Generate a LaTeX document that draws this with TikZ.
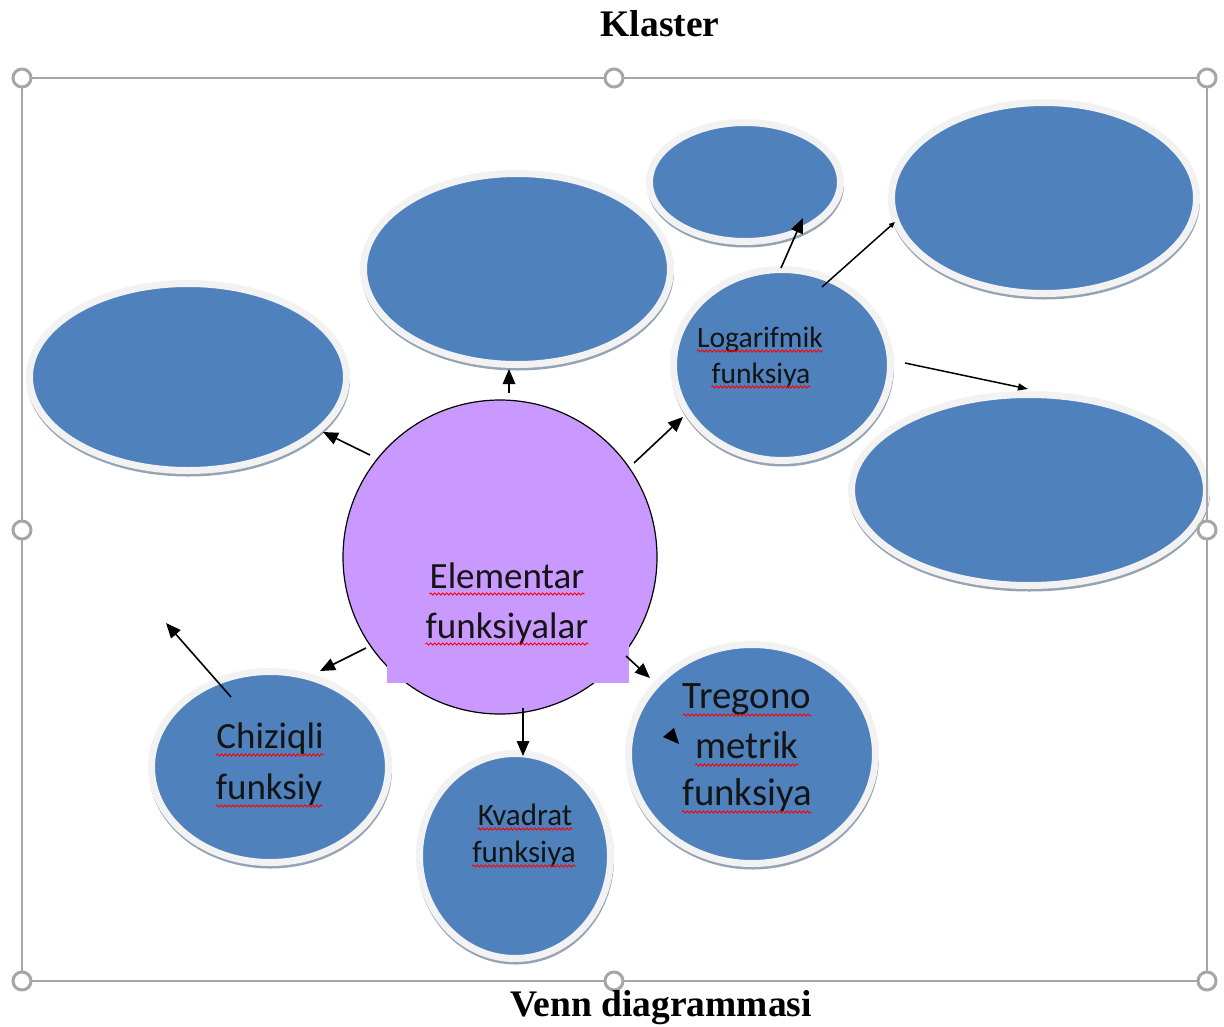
\documentclass[tikz,border=0pt]{standalone}
\usepackage{fontspec}
\setmainfont{Liberation Serif}
\newfontfamily\calibri{Carlito}
\usetikzlibrary{shapes.geometric,arrows.meta,decorations.pathmorphing}
\definecolor{blobblue}{HTML}{4F81BD}
\definecolor{rimwhite}{HTML}{F2F2F2}
\definecolor{shadowgray}{HTML}{96A3B5}
\definecolor{centrepurple}{HTML}{CA99FF}
\definecolor{framegray}{HTML}{A6A6A6}
\tikzset{
  blob/.style={ellipse, inner sep=0pt, outer sep=0pt, fill=blobblue, draw=rimwhite, line width=7pt,
    preaction={draw=shadowgray, line width=6pt, transform canvas={xshift=0.5pt, yshift=-3pt}}},
  hub/.style={circle, inner sep=0pt, outer sep=0pt, minimum size=314pt, fill=centrepurple, draw=black, line width=1.2pt},
  lbl/.style={anchor=base, inner sep=0pt, text=black!92},
  spell/.style={draw=red, line width=0.9pt, decorate, decoration={snake, segment length=4pt, amplitude=1.1pt}},
  link/.style={draw=black, line width=1.6pt, -{Triangle[length=15pt,width=12.5pt]}},
  midlink/.style={draw=black, line width=1.5pt, -{Triangle[length=10pt,width=7pt]}},
  tinylink/.style={draw=black, line width=1.5pt, -{Triangle[length=6pt,width=5pt]}},
  handle/.style={circle, inner sep=0pt, outer sep=0pt, minimum size=18pt, draw=framegray, line width=3pt, fill=white},
  titletext/.style={anchor=base, inner sep=0pt, font=\bfseries\fontsize{37.5}{40}\selectfont}
}
\begin{document}
\begin{tikzpicture}[x=1pt,y=-1pt]
\useasboundingbox (0,0) rectangle (1224,1026);
% outer ellipses
\node[blob, minimum width=317pt, minimum height=187pt] (L1) at (188,377) {};
\node[blob, minimum width=307pt, minimum height=191pt] (T1) at (517,269) {};
\node[blob, minimum width=191pt, minimum height=119pt] (S)  at (745,182) {};
\node[blob, minimum width=305pt, minimum height=191pt] (TR) at (1044,198) {};
\node[blob, minimum width=355pt, minimum height=191pt] (R)  at (1029,490) {};
\node[blob, minimum width=217pt, minimum height=191pt] (Lg) at (782,365) {};
\node[blob, minimum width=237pt, minimum height=191pt] (Ch) at (270,767) {};
\node[blob, minimum width=191pt, minimum height=205pt] (Kv) at (515,856) {};
\node[blob, minimum width=247pt, minimum height=219pt] (Tr) at (752,754) {};
% central circle with text box overlay
\node[hub] (c) at (500,557) {};
\fill[centrepurple] (387,636) rectangle (629,683);
% connectors
\draw[link] ([shift={(-130,-102)}]c.center) -- ([shift={(135,55)}]L1.center);
\draw[link] ([shift={(9,-164)}]c.center) -- ([shift={(-8,100)}]T1.center);
\draw[link] ([shift={(134,-94)}]c.center) -- ([shift={(-99,52)}]Lg.center);
\draw[link] ([shift={(-1,-97)}]Lg.center) -- ([shift={(58,36)}]S.center);
\draw[tinylink] ([shift={(40,-78)}]Lg.center) -- ([shift={(-149,24)}]TR.center);
\draw[midlink] ([shift={(123,-2)}]Lg.center) -- ([shift={(-1,-101)}]R.center);
\draw[link] ([shift={(-134,91)}]c.center) -- ([shift={(50,-96)}]Ch.center);
\coordinate (hfree) at (166,623);
\draw[link] ([shift={(-39,-70)}]Ch.center) -- (hfree);
\draw[link] ([shift={(23,151)}]c.center) -- ([shift={(8,-100)}]Kv.center);
\draw[link] ([shift={(126,99)}]c.center) -- ([shift={(-102,-76)}]Tr.center);
\fill[black] ([shift={(-89,-17)}]Tr.center) -- ([shift={(-78,-26)}]Tr.center) -- ([shift={(-73,-10)}]Tr.center) -- cycle;
% labels
\node[lbl, font=\calibri\fontsize{37}{40}\selectfont] (e1) at (507,588) {Elementar};
\node[lbl, font=\calibri\fontsize{37}{40}\selectfont] (e2) at (507,638) {funksiyalar};
\node[lbl, font=\calibri\fontsize{29.6}{32}\selectfont] (lg1) at (760,347) {Logarifmik};
\node[lbl, font=\calibri\fontsize{29.6}{32}\selectfont] (lg2) at (761,383) {funksiya};
\node[lbl, font=\calibri\fontsize{37}{40}\selectfont] (ch1) at (270,748) {Chiziqli};
\node[lbl, font=\calibri\fontsize{37}{40}\selectfont] (ch2) at (269,799) {funksiy};
\node[lbl, font=\calibri\fontsize{31}{32}\selectfont] (kv1) at (525,825) {Kvadrat};
\node[lbl, font=\calibri\fontsize{31}{32}\selectfont] (kv2) at (524,862) {funksiya};
\node[lbl, font=\calibri\fontsize{38.8}{40}\selectfont] (tr1) at (747,708) {Tregono};
\node[lbl, font=\calibri\fontsize{38.8}{40}\selectfont] (tr2) at (747,758) {metrik};
\node[lbl, font=\calibri\fontsize{38.8}{40}\selectfont] (tr3) at (747,805) {funksiya};
% spelling underlines
\foreach \w/\d in {e1/6, e2/6, lg1/4, lg2/4, ch1/7, ch2/7, kv1/4, kv2/4, tr1/7, tr2/7, tr3/7}
  \draw[spell] ([yshift=-\d pt]\w.base west) -- ([yshift=-\d pt]\w.base east);
% frame and handles
\draw[framegray, line width=2.5pt] (22,78) rectangle (1207,981);
\node[handle] (h1) at (22,78) {};
\node[handle] (h2) at (614,78) {};
\node[handle] (h3) at (1207,78) {};
\node[handle] (h4) at (22,530) {};
\node[handle] (h5) at (1207,530) {};
\node[handle] (h6) at (22,981) {};
\node[handle] (h7) at (614,981) {};
\node[handle] (h8) at (1207,981) {};
% titles
\node[titletext] (title) at (660,36) {Klaster};
\node[titletext] (caption) at (661,1016) {Venn diagrammasi};
\end{tikzpicture}
\end{document}
